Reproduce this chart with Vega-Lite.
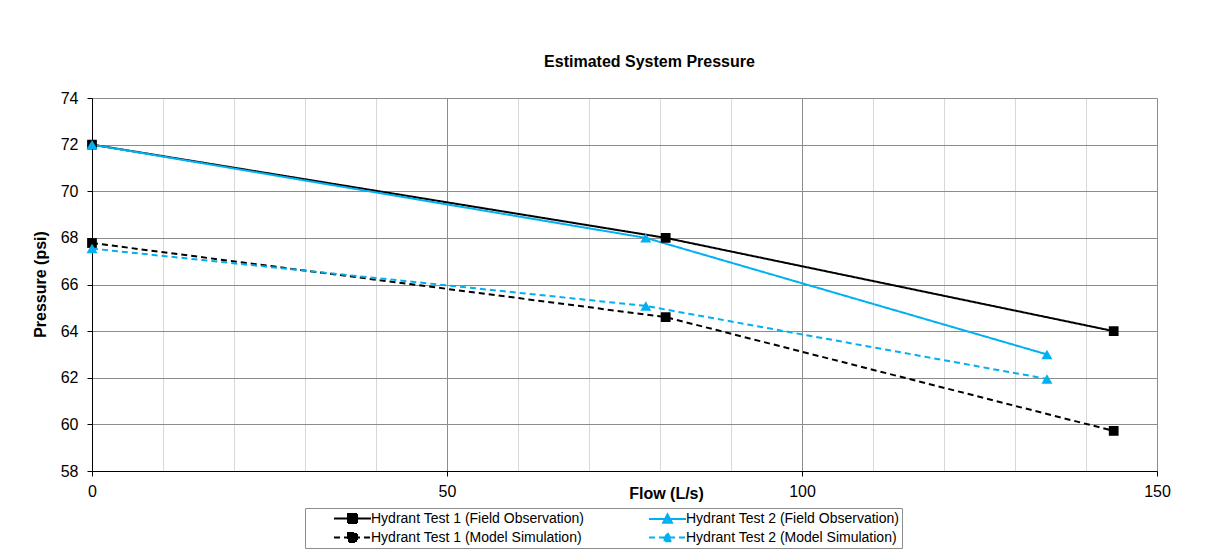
{
  "$schema": "https://vega.github.io/schema/vega-lite/v6.json",
  "width": 1065,
  "height": 373,
  "autosize": {"type": "none"},
  "padding": {"left": 92, "top": 98, "right": 71, "bottom": 79},
  "background": "#ffffff",
  "title": {
    "text": "Estimated System Pressure",
    "font": "Liberation Sans",
    "fontSize": 16,
    "fontWeight": "bold",
    "color": "#000000",
    "anchor": "middle",
    "frame": "group",
    "dx": 25,
    "offset": 20
  },
  "data": {
    "values": [
      {"series": "Hydrant Test 1 (Field Observation)", "flow": 0, "pressure": 72},
      {"series": "Hydrant Test 1 (Field Observation)", "flow": 80.8, "pressure": 68},
      {"series": "Hydrant Test 1 (Field Observation)", "flow": 143.9, "pressure": 64},
      {"series": "Hydrant Test 2 (Field Observation)", "flow": 0, "pressure": 72},
      {"series": "Hydrant Test 2 (Field Observation)", "flow": 78.0, "pressure": 68},
      {"series": "Hydrant Test 2 (Field Observation)", "flow": 134.5, "pressure": 63},
      {"series": "Hydrant Test 1 (Model Simulation)", "flow": 0, "pressure": 67.78},
      {"series": "Hydrant Test 1 (Model Simulation)", "flow": 80.8, "pressure": 64.6},
      {"series": "Hydrant Test 1 (Model Simulation)", "flow": 143.9, "pressure": 59.72},
      {"series": "Hydrant Test 2 (Model Simulation)", "flow": 0, "pressure": 67.54},
      {"series": "Hydrant Test 2 (Model Simulation)", "flow": 78.0, "pressure": 65.08},
      {"series": "Hydrant Test 2 (Model Simulation)", "flow": 134.5, "pressure": 61.95}
    ]
  },
  "encoding": {
    "x": {
      "field": "flow",
      "type": "quantitative",
      "scale": {"domain": [0, 150], "nice": false, "zero": false},
      "axis": {
        "values": [0, 10, 20, 30, 40, 50, 60, 70, 80, 90, 100, 110, 120, 130, 140, 150],
        "labelExpr": "datum.value % 50 === 0 ? datum.label : ''",
        "grid": true,
        "gridColor": {"condition": {"test": "datum.value % 50 === 0", "value": "#8c8c8c"}, "value": "#d9d9d9"},
        "gridWidth": 1,
        "ticks": true,
        "tickSize": 5,
        "tickColor": "#000000",
        "tickOpacity": {"condition": {"test": "datum.value % 50 === 0", "value": 1}, "value": 0},
        "domainColor": "#000000",
        "domainWidth": 1,
        "labelFont": "Liberation Sans",
        "labelFontSize": 16,
        "labelColor": "#000000",
        "labelPadding": 7,
        "labelFlush": false,
        "labelOverlap": false,
        "title": "Flow (L/s)",
        "titleFont": "Liberation Sans",
        "titleFontSize": 16,
        "titleFontWeight": "bold",
        "titleColor": "#000000",
        "titleX": 574,
        "titleY": 22,
        "titleBaseline": "middle",
        "titleAlign": "center"
      }
    },
    "y": {
      "field": "pressure",
      "type": "quantitative",
      "scale": {"domain": [58, 74], "nice": false, "zero": false},
      "axis": {
        "values": [58, 60, 62, 64, 66, 68, 70, 72, 74],
        "grid": true,
        "gridColor": "#8c8c8c",
        "gridWidth": 1,
        "tickSize": 5,
        "tickColor": "#000000",
        "domainColor": "#000000",
        "domainWidth": 1,
        "labelFont": "Liberation Sans",
        "labelFontSize": 16,
        "labelColor": "#000000",
        "labelPadding": 9,
        "labelFlush": false,
        "labelOverlap": false,
        "title": "Pressure (psi)",
        "titleFont": "Liberation Sans",
        "titleFontSize": 16,
        "titleFontWeight": "bold",
        "titleColor": "#000000",
        "titleAngle": 270,
        "titleX": -52,
        "titleY": 186,
        "titleBaseline": "middle",
        "titleAlign": "center"
      }
    }
  },
  "layer": [
    {
      "mark": {"type": "line", "strokeWidth": 2},
      "encoding": {
        "color": {
          "field": "series",
          "type": "nominal",
          "scale": {
            "domain": ["Hydrant Test 1 (Field Observation)", "Hydrant Test 1 (Model Simulation)", "Hydrant Test 2 (Field Observation)", "Hydrant Test 2 (Model Simulation)"],
            "range": ["#000000", "#000000", "#00b0f0", "#00b0f0"]
          },
          "legend": {
            "title": null,
            "orient": "none",
            "legendX": 213,
            "legendY": 410,
            "direction": "vertical",
            "columns": 2,
            "columnPadding": 37,
            "rowPadding": 2,
            "padding": 2,
            "strokeColor": "#8c8c8c",
            "fillColor": "#ffffff",
            "labelFont": "Liberation Sans",
            "labelFontSize": 14,
            "labelColor": "#000000",
            "labelOffset": 21,
            "labelLimit": 400,
            "symbolSize": 225,
            "symbolOffset": 26,
            "symbolStrokeWidth": 2,
            "encode": {
              "symbols": {
                "update": {
                  "shape": {"signal": "indexof(datum.value, 'Test 1') >= 0 ? 'M-1,0H3.93M0.87,-0.6H2.07V0.6H0.87Z' : 'M-1,0H3.93M1.47,-0.6L2.05,0.5L0.89,0.5Z'"},
                  "fill": {"signal": "indexof(datum.value, 'Test 1') >= 0 ? '#000000' : '#00b0f0'"},
                  "fillOpacity": {"value": 1}
                }
              }
            }
          }
        },
        "strokeDash": {
          "field": "series",
          "type": "nominal",
          "scale": {
            "domain": ["Hydrant Test 1 (Field Observation)", "Hydrant Test 1 (Model Simulation)", "Hydrant Test 2 (Field Observation)", "Hydrant Test 2 (Model Simulation)"],
            "range": [[1, 0], [6, 4], [1, 0], [6, 4]]
          }
        }
      }
    },
    {
      "transform": [{"filter": "indexof(datum.series, 'Test 1') >= 0"}],
      "mark": {"type": "point", "filled": true, "opacity": 1, "size": 95, "shape": "square", "color": "#000000"},
      "encoding": {}
    },
    {
      "transform": [{"filter": "indexof(datum.series, 'Test 2') >= 0"}],
      "mark": {"type": "point", "filled": true, "opacity": 1, "size": 120, "shape": "triangle-up", "color": "#00b0f0"},
      "encoding": {}
    }
  ],
  "config": {
    "view": {"stroke": null},
    "font": "Liberation Sans"
  }
}
